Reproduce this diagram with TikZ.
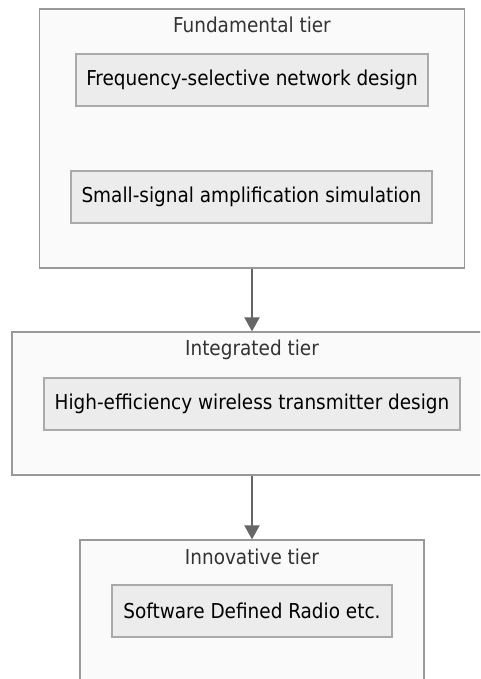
\documentclass[tikz,border=0pt]{standalone}
\usepackage{fontspec}
\setmainfont{DejaVu Sans Condensed}
\usetikzlibrary{arrows.meta}
\definecolor{tierfill}{HTML}{FAFAFA}
\definecolor{tierline}{HTML}{999999}
\definecolor{stepfill}{HTML}{ECECEC}
\definecolor{stepline}{HTML}{AAAAAA}
\definecolor{titletext}{HTML}{333333}
\definecolor{linkcol}{HTML}{666666}
\tikzset{
  tier/.style={draw=tierline, fill=tierfill, line width=1.2pt, inner sep=0pt},
  stepbox/.style={draw=stepline, fill=stepfill, line width=1.2pt, inner sep=0pt,
    font=\fontsize{20.5}{24}\selectfont, text=black},
  tiertitle/.style={font=\fontsize{20.5}{24}\selectfont, text=titletext, inner sep=0pt},
  link/.style={draw=linkcol, line width=2pt, -{Triangle[length=14pt,width=15pt]}}
}
\begin{document}
\begin{tikzpicture}[x=1pt,y=-1pt]
  \useasboundingbox (0,0) rectangle (480,679);
  \begin{scope}
  \clip (0,0) rectangle (480,679);
  % tier frames
  \node[tier, minimum width=425, minimum height=259] (fund) at (252,138.5) {};
  \node[tier, minimum width=480, minimum height=143] (integ) at (252,403.5) {};
  \node[tier, minimum width=344, minimum height=160] (innov) at (252,620) {};
  % tier titles
  \node[tiertitle] (tfund) at (252,25) {Fundamental tier};
  \node[tiertitle] (tinteg) at (252,350) {Integrated tier};
  \node[tiertitle] (tinnov) at (252,557) {Innovative tier};
  % steps
  \node[stepbox, minimum width=352, minimum height=52] (freq) at (252,80) {Frequency-selective network design};
  \node[stepbox, minimum width=361, minimum height=52] (small) at (251.5,197) {Small-signal amplification simulation};
  \node[stepbox, minimum width=416, minimum height=52] (high) at (252,404) {High-efficiency wireless transmitter design};
  \node[stepbox, minimum width=280, minimum height=52] (sdr) at (252,611) {Software Defined Radio etc.};
  % links between tiers
  \draw[link] (fund.south) -- (integ.north);
  \draw[link] (integ.south) -- (innov.north);
  \end{scope}
\end{tikzpicture}
\end{document}
